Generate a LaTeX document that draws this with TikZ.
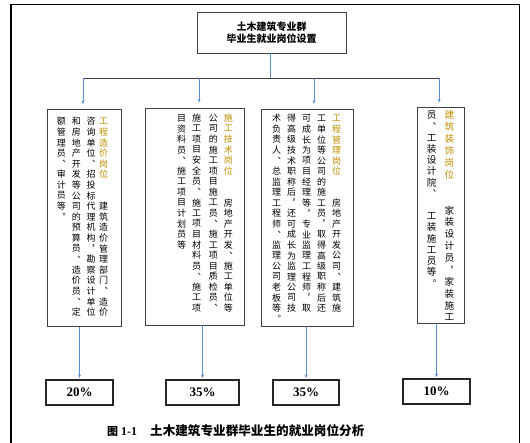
\documentclass[tikz,border=0pt]{standalone}
\usepackage{fontspec}
\setmainfont{Liberation Serif}
\newfontfamily\cjk{Noto Sans CJK SC}
\usetikzlibrary{arrows.meta}
\definecolor{gold}{HTML}{BF8F00}
\definecolor{conn}{HTML}{5B8BD0}
\definecolor{boxgray}{HTML}{404040}
\ExplSyntaxOn
\NewDocumentCommand\vcol{ m m m }
  {
    \vbox{ \offinterlineskip
      \tl_map_inline:nn {#2}
        { \hbox to 1em { \vbox to #1 { \vss \hbox to 1em { \hss \color{gold} ##1 \hss } \vss } } }
      \tl_map_inline:nn {#3}
        { \hbox to 1em { \vbox to #1 { \vss \hbox to 1em { \hss ##1 \hss } \vss } } }
    }
  }
\ExplSyntaxOff
\tikzset{
  frame/.style={line width=1.4pt, draw=black},
  bigbox/.style={draw=boxgray, line width=0.9pt, rectangle, inner sep=0pt, minimum height=217pt},
  pbox/.style={draw=black!85, line width=1.1pt, rectangle, inner sep=0pt, minimum height=25pt, font=\fontsize{13}{13}\selectfont\bfseries},
  topbox/.style={draw=boxgray, line width=0.9pt, rectangle, inner sep=0pt, minimum width=149pt, minimum height=41pt, align=center, font=\cjk\fontsize{10}{11.5}\selectfont\bfseries},
  colnode/.style={inner sep=0pt, anchor=north, font=\cjk\fontsize{9}{9}\selectfont},
  colnodeb/.style={inner sep=0pt, anchor=north, font=\cjk\fontsize{9.6}{9.6}\selectfont},
  link/.style={draw=conn, line width=0.7pt},
  arr/.style={link, -{Stealth[length=3.5pt, width=3pt]}},
  barline/.style={draw=black!75, line width=0.9pt},
}
\begin{document}
\begin{tikzpicture}[x=1pt, y=-1pt]
\useasboundingbox (0,0) rectangle (530,442);
\fill[white] (0,0) rectangle (530,442);
\draw[frame] (11,450) -- (11,4.5) -- (519.5,4.5) -- (519.5,450);

\node[topbox] (top) at (271.5,32.5) {土木建筑专业群\\毕业生就业岗位设置};

\coordinate (j1) at (83,78);
\coordinate (j2) at (199,78);
\coordinate (j3) at (314,78);
\coordinate (j4) at (439,78);

\node[bigbox, minimum width=74pt] (b1) at (84,218) {};
\node[bigbox, minimum width=99pt] (b2) at (194.5,216.5) {};
\node[bigbox, minimum width=92pt] (b3) at (307,217.5) {};
\node[bigbox, minimum width=47pt, minimum height=216pt] (b4) at (440.5,215) {};

\node[pbox, minimum width=67pt] (p1) at (79.5,392.5) {20\%};
\node[pbox, minimum width=73pt] (p2) at (202.5,392.5) {35\%};
\node[pbox, minimum width=66pt] (p3) at (306,392.5) {35\%};
\node[pbox, minimum width=67pt] (p4) at (436.5,391.5) {10\%};

% connectors
\draw[link] (top.south -| 270,0) -- (270,78);
\draw[barline] (j1) -- (j4);
\draw[arr, shorten >=5pt] (j1) -- (j1 |- b1.north);
\draw[arr, shorten >=5pt] (j2) -- (j2 |- b2.north);
\draw[arr, shorten >=5pt] (j3) -- (j3 |- b3.north);
\draw[arr, shorten >=4pt] (j4) -- (j4 |- b4.north);
\draw[arr, shorten >=1.5pt] (p1.north |- b1.south) -- (p1.north);
\draw[arr, shorten >=1.5pt] (p2.north |- b2.south) -- (p2.north);
\draw[arr, shorten >=1.5pt] (p3.north |- b3.south) -- (p3.north);
\draw[arr, shorten >=1.5pt] (p4.north |- b4.south) -- (p4.north);

% box 1 text
\node[colnode] (b1c1) at (103.5,116) {\vcol{10.6pt}{工程造价岗位}{~~建筑造价管理部门︑造价}};
\node[colnode] (b1c2) at (91.2,116) {\vcol{10.6pt}{}{咨询单位︑招投标代理机构︐勘察设计单位}};
\node[colnode] (b1c3) at (76.3,116) {\vcol{10.6pt}{}{和房地产开发等公司的预算员︑造价员︑定}};
\node[colnode] (b1c4) at (61.3,116) {\vcol{10.6pt}{}{额管理员︑审计员等︒}};

% box 2 text
\node[colnode] (b2c1) at (228.3,112.7) {\vcol{10.55pt}{施工技术岗位}{~~房地产开发︑施工单位等}};
\node[colnode] (b2c2) at (213.3,112.7) {\vcol{10.55pt}{}{公司的施工项目施工员︑施工项目质检员︑}};
\node[colnode] (b2c3) at (196.7,112.7) {\vcol{10.55pt}{}{施工项目安全员︑施工项目材料员︑施工项}};
\node[colnode] (b2c4) at (181.7,112.7) {\vcol{10.55pt}{}{目资料员︑施工项目计划员等}};

% box 3 text
\node[colnode] (b3c1) at (336.7,113) {\vcol{10.55pt}{工程管理岗位}{~~房地产开发公司︑建筑施}};
\node[colnode] (b3c2) at (321.7,113) {\vcol{10.55pt}{}{工单位等公司的施工员︐取得高级职称后还}};
\node[colnode] (b3c3) at (306.7,113) {\vcol{10.55pt}{}{可成长为项目经理等︐专业监理工程师︐取}};
\node[colnode] (b3c4) at (291.7,113) {\vcol{10.55pt}{}{得高级技术职称后︐还可成长为监理公司技}};
\node[colnode] (b3c5) at (276.7,113) {\vcol{10.55pt}{}{术负责人︑总监理工程师︑监理公司老板等︒}};

% box 4 text
\node[colnodeb] (b4c1) at (449.3,109) {\vcol{11.9pt}{建筑装饰岗位}{~~家装设计员︐家装施工}};
\node[colnodeb] (b4c2) at (431.7,109.4) {\vcol{11.2pt}{}{员︑工装设计院︑~工装施工员等︒}};

% caption
\node[inner sep=0pt, anchor=west] (cap) at (107,431)
  {{\cjk\fontsize{11}{11}\selectfont\bfseries 图}\hspace{3pt}{\fontsize{12}{12}\selectfont\bfseries 1-1}\hspace{13pt}{\cjk\fontsize{12.6}{12.6}\selectfont\bfseries 土木建筑专业群毕业生的就业岗位分析}};
\end{tikzpicture}
\end{document}
